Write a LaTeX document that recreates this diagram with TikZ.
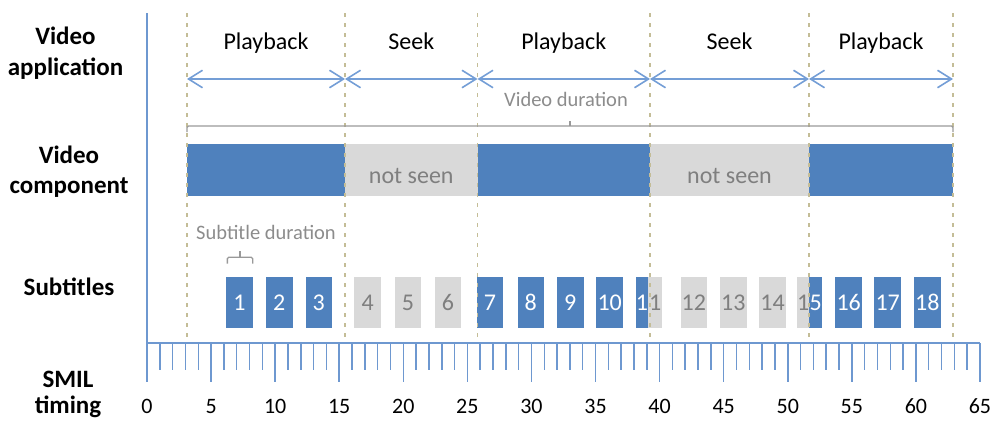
\documentclass[tikz,border=0pt]{standalone}
\usepackage{fontspec}
\setmainfont{Carlito}
\usetikzlibrary{arrows.meta}
\definecolor{barblue}{HTML}{4F81BD}
\definecolor{bargray}{HTML}{D9D9D9}
\definecolor{txtgray}{HTML}{7F7F7F}
\definecolor{lblgray}{HTML}{8C8C8C}
\definecolor{axisblue}{RGB}{110,152,208}
\definecolor{arrblue}{RGB}{116,158,214}
\definecolor{dashtan}{HTML}{C4BD97}
\definecolor{brgray}{HTML}{999999}
\newcommand\myfs[1]{\fontsize{#1}{#1}\selectfont}
\begin{document}
\begin{tikzpicture}[x=1pt,y=-1pt,
  rowlabel/.style={font=\myfs{25}\bfseries, anchor=base, inner sep=0pt},
  phaselabel/.style={font=\myfs{24}, anchor=base, inner sep=0pt},
  note/.style={font=\myfs{20.5}, text=lblgray, anchor=base, inner sep=0pt},
  bluebar/.style={fill=barblue, draw=none, inner sep=0pt, minimum height=52pt},
  graybar/.style={fill=bargray, draw=none, inner sep=0pt, minimum height=52pt},
  seentext/.style={font=\myfs{24}, text=txtgray, anchor=base, inner sep=0pt},
  subon/.style={fill=barblue, text=white, draw=none, inner sep=0pt, minimum height=51.6pt, minimum width=26.5pt, font=\myfs{24}},
  suboff/.style={fill=bargray, text=txtgray, draw=none, inner sep=0pt, minimum height=51.6pt, minimum width=26.5pt, font=\myfs{24}},
  arr/.style={draw=arrblue, line width=1.6pt, arrows={Straight Barb[length=14pt,width=17.5pt]-Straight Barb[length=14pt,width=17.5pt]}},
  dashline/.style={draw=dashtan, line width=1.3pt, dash pattern=on 4pt off 6pt},
  brk/.style={draw=brgray, line width=1.4pt, rounded corners=1.5pt},
  axisline/.style={draw=axisblue, line width=1.5pt},
  num/.style={font=\myfs{22}, anchor=base, inner sep=0pt}
]
\useasboundingbox (0,0) rectangle (1000,431);

% row labels
\node[rowlabel] (la1) at (65.5,44.3) {Video};
\node[rowlabel] (la2) at (65.5,75.3) {application};
\node[rowlabel] (lc1) at (69,163.3) {Video};
\node[rowlabel] (lc2) at (69,193.3) {component};
\node[rowlabel] (ls) at (69,295) {Subtitles};
\node[rowlabel] (lt1) at (68,387.3) {SMIL};
\node[rowlabel] (lt2) at (68,413.3) {timing};

% video component bar
\node[bluebar, minimum width=158pt] (v1) at (266,170) {};
\node[graybar, minimum width=132.5pt] (g1) at (411.25,170) {};
\node[bluebar, minimum width=172.5pt] (v2) at (563.75,170) {};
\node[graybar, minimum width=159pt] (g2) at (729.5,170) {};
\node[bluebar, minimum width=144pt] (v3) at (881,170) {};
\node[seentext] (ns1) at (411.25,183) {not seen};
\node[seentext] (ns2) at (729.5,183) {not seen};

% subtitles
\foreach \n/\x/\s in {1/239.5/subon,2/279.3/subon,3/318.8/subon,4/367.7/suboff,5/408/suboff,6/448/suboff,7/490/subon,8/530.8/subon,9/570.3/subon,10/609.7/subon,12/693.8/suboff,13/733.3/suboff,14/772.5/suboff,16/848.7/subon,17/887.7/subon,18/927.3/subon}
  \node[\s] (s\n) at (\x,302.5) {\n};
\node[subon, minimum width=12.6pt] (s11a) at (642,302.5) {1};
\node[suboff, minimum width=14pt] (s11b) at (655.3,302.5) {1};
\node[suboff, minimum width=11.7pt] (s15a) at (803.15,302.5) {1};
\node[subon, minimum width=13.3pt] (s15b) at (815.65,302.5) {5};

% dashed phase boundaries
\foreach \x in {187,345,477.5,650,809,953}
  \draw[dashline] (\x,13) -- (\x,343);

% phase arrows
\coordinate (a0) at (187,79);
\coordinate (a1) at (345,79);
\coordinate (a2) at (477.5,79);
\coordinate (a3) at (650,79);
\coordinate (a4) at (809,79);
\coordinate (a5) at (953,79);
\draw[arr] (a0) -- (a1);
\draw[arr] (a1) -- (a2);
\draw[arr] (a2) -- (a3);
\draw[arr] (a3) -- (a4);
\draw[arr] (a4) -- (a5);
\node[phaselabel] (p1) at (266,49.5) {Playback};
\node[phaselabel] (p2) at (411.25,49.5) {Seek};
\node[phaselabel] (p3) at (563.75,49.5) {Playback};
\node[phaselabel] (p4) at (729.5,49.5) {Seek};
\node[phaselabel] (p5) at (881,49.5) {Playback};

% video duration bracket
\node[note] (vd) at (566,106) {Video duration};
\draw[brk] (187,132) -- (187,126) -- (953,126) -- (953,132);
\draw[brk] (570,126) -- (570,120.5);

% subtitle duration bracket
\node[note] (sd) at (266,239.3) {Subtitle duration};
\draw[brk] (227.3,263.5) -- (227.3,257.2) -- (252.7,257.2) -- (252.7,263.5);
\draw[brk] (240,257.2) -- (240,251);

% SMIL timing axis
\draw[axisline] (147,13) -- (147,382);
\draw[axisline] (147,343) -- (980,343);
\foreach \i in {1,...,65}{
  \pgfmathsetmacro\xx{147+\i*12.815}
  \pgfmathsetmacro\len{mod(\i,5)==0 ? 39 : 27}
  \draw[axisline] (\xx,343) -- (\xx,343+\len);
}
\foreach \i in {0,5,...,65}
  \node[num] (n\i) at (147+\i*12.815,413.3) {\i};
\end{tikzpicture}
\end{document}
